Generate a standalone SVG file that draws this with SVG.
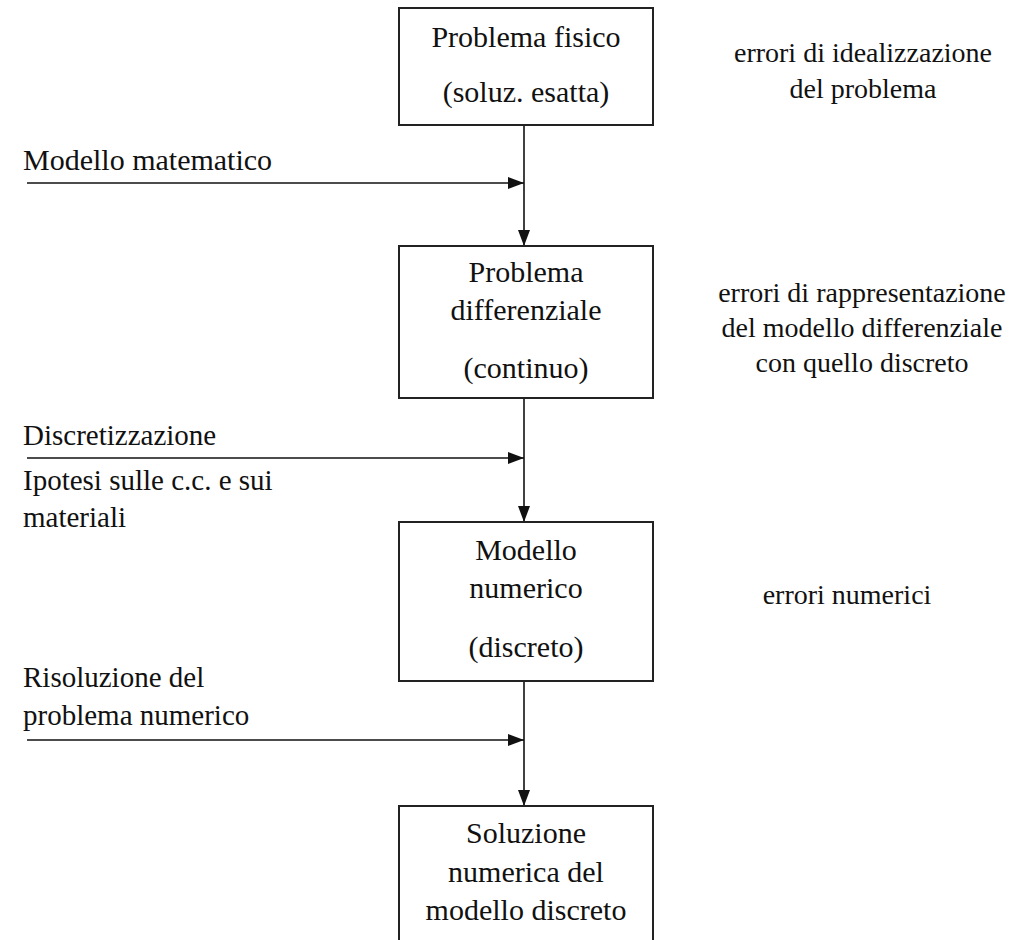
<svg xmlns="http://www.w3.org/2000/svg" width="1030" height="940" viewBox="0 0 1030 940" font-family="'Liberation Serif', 'DejaVu Serif', serif">
<defs>
<style>
text{font-family:'Liberation Serif','DejaVu Serif',serif;font-size:28px;fill:#111}
.c{text-anchor:middle}
.b{font-size:30px}
.l{font-size:29px}
.box{fill:#fff;stroke:#222;stroke-width:2}
.ln{stroke:#111;stroke-width:1.6;fill:none}
</style>
<marker id="ah" viewBox="0 0 16 12" refX="16" refY="6" markerWidth="16" markerHeight="12" markerUnits="userSpaceOnUse" orient="auto">
<path d="M0,0 L16,6 L0,12 Z" fill="#111"/>
</marker>
</defs>
<rect width="1030" height="940" fill="#fff"/>
<g id="connectors">
<line class="ln" x1="524" y1="125" x2="524" y2="246" marker-end="url(#ah)"/>
<line class="ln" x1="524" y1="398" x2="524" y2="522" marker-end="url(#ah)"/>
<line class="ln" x1="524" y1="681" x2="524" y2="806" marker-end="url(#ah)"/>
<line class="ln" x1="27" y1="183" x2="524" y2="183" marker-end="url(#ah)"/>
<line class="ln" x1="27" y1="458" x2="524" y2="458" marker-end="url(#ah)"/>
<line class="ln" x1="27" y1="740" x2="524" y2="740" marker-end="url(#ah)"/>
</g>
<g id="n1">
<rect class="box" x="399" y="8" width="254" height="117"/>
<text class="c b" x="526" y="47">Problema fisico</text>
<text class="c b" x="526" y="102">(soluz. esatta)</text>
</g>
<g id="n2">
<rect class="box" x="399" y="246" width="254" height="152"/>
<text class="c b" x="526" y="282">Problema</text>
<text class="c b" x="526" y="320">differenziale</text>
<text class="c b" x="526" y="378">(continuo)</text>
</g>
<g id="n3">
<rect class="box" x="399" y="522" width="254" height="159"/>
<text class="c b" x="526" y="560">Modello</text>
<text class="c b" x="526" y="598">numerico</text>
<text class="c b" x="526" y="657">(discreto)</text>
</g>
<g id="n4">
<path class="box" d="M399,945 L399,806 L653,806 L653,945"/>
<text class="c b" x="526" y="843">Soluzione</text>
<text class="c b" x="526" y="882">numerica del</text>
<text class="c b" x="526" y="920">modello discreto</text>
</g>
<g id="inputs">
<text class="b" x="23" y="170">Modello matematico</text>
<text class="l" x="23" y="445">Discretizzazione</text>
<text class="l" x="23" y="490">Ipotesi sulle c.c. e sui</text>
<text class="l" x="23" y="527">materiali</text>
<text class="l" x="23" y="687">Risoluzione del</text>
<text class="l" x="23" y="725">problema numerico</text>
</g>
<g id="errors">
<text class="c" x="863" y="62">errori di idealizzazione</text>
<text class="c" x="863" y="98">del problema</text>
<text class="c" x="862" y="302">errori di rappresentazione</text>
<text class="c" x="862" y="337">del modello differenziale</text>
<text class="c" x="862" y="372">con quello discreto</text>
<text class="c" x="847" y="604">errori numerici</text>
</g>
</svg>
